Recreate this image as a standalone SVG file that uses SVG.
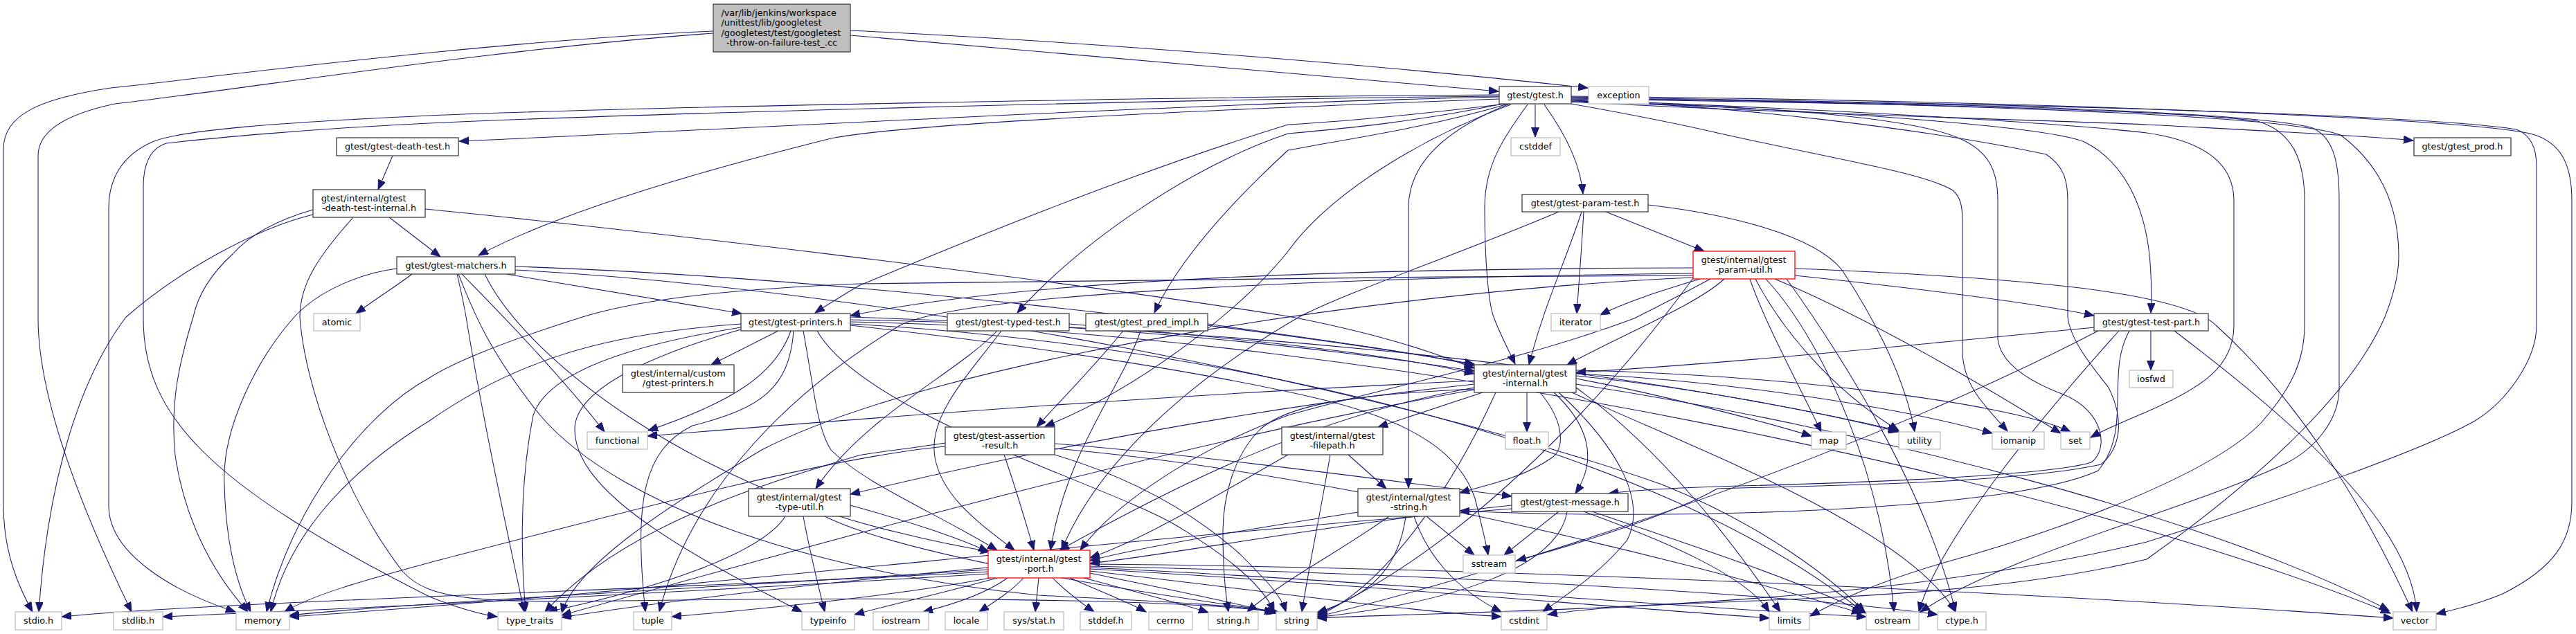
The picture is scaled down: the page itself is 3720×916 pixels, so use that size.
<svg xmlns="http://www.w3.org/2000/svg" width="3720" height="916" viewBox="0 0 3720 916">
<style>
.n rect{fill:#fff;stroke:#404040;stroke-width:1.3}
.x rect{fill:#fff;stroke:#bfbfbf;stroke-width:1.3}
.r rect{fill:#fff;stroke:#ff0000;stroke-width:1.3}
.g rect{fill:#bfbfbf;stroke:#404040;stroke-width:1.3}
text{font-family:"DejaVu Sans","Liberation Sans",sans-serif;font-size:12.75px;fill:#000}
.m{text-anchor:middle}
#edges path{fill:none;stroke:#191970;stroke-width:1.05;marker-end:url(#a)}
</style>
<defs>
<marker id="a" markerUnits="userSpaceOnUse" markerWidth="15" markerHeight="12" refX="14" refY="5.5" orient="auto"><path d="M0,0 L14,5.5 L0,11 z" fill="#191970" stroke="#191970" stroke-width="1"/></marker>
</defs>
<rect width="3720" height="916" fill="#fff"/>
<g id="edges">
<path d="M1030,45 C700,60 320,110 160,127 C60,142 5,165 5,215 L5,730 C5,800 28,850 47,884"/>
<path d="M1030,48 C700,72 360,128 166,150 C95,165 55,190 55,225 L55,460 C55,570 110,720 190,884"/>
<path d="M1228,44 C1600,62 2000,95 2293,127"/>
<path d="M1228,51 C1600,82 1950,113 2164,132"/>
<path d="M2165,140 C1700,150 1100,185 663,204"/>
<path d="M2165,143 C1700,160 1300,180 1200,200 C1000,250 800,310 691,369"/>
<path d="M2165,137 C1700,140 900,155 620,167 C400,177 260,188 220,205 C175,225 157,260 157,300 L157,731 C157,800 250,855 340,884"/>
<path d="M2165,139 C1700,143 900,165 620,178 C450,186 300,200 240,207 C215,215 207,240 207,270 L207,460 C207,600 300,700 620,862 C660,878 690,887 718,891"/>
<path d="M2175,150 C2050,165 1950,175 1860,180 C1600,260 1320,380 1240,413 C1215,428 1195,440 1177,452"/>
<path d="M2170,150 C2050,175 1950,185 1860,193 C1720,240 1560,350 1469,452"/>
<path d="M2178,150 C2060,185 1950,200 1860,217 C1770,300 1700,380 1667,452"/>
<path d="M2182,151 C2050,200 1920,280 1860,363 C1800,440 1650,560 1509,616"/>
<path d="M2180,150 C2080,190 2034,240 2034,300 L2034,705"/>
<path d="M2206,151 C2170,200 2144,240 2144,300 C2144,380 2150,440 2157,458 C2165,480 2178,505 2188,526"/>
<path d="M2217,151 L2217,198"/>
<path d="M2230,151 C2265,200 2282,240 2286,280"/>
<path d="M2269,147 C2600,165 3000,175 3100,180 C3250,188 3400,195 3485,203"/>
<path d="M2269,145 C2600,158 2950,180 3010,205 C3070,235 3095,300 3103,360 C3108,400 3107,430 3106,452"/>
<path d="M2269,150 C2380,170 2450,185 2480,192 C2650,230 2780,250 2820,275 C2832,285 2834,300 2834,320 L2834,510 C2836,560 2870,590 2899,623"/>
<path d="M2269,147 C2500,152 2750,165 2830,200 C2875,220 2885,250 2885,290 L2885,490 C2890,530 2940,555 2980,570 C3040,595 3045,650 3020,668 C2950,690 2600,700 2480,703 C2420,705 2360,708 2323,713"/>
<path d="M2269,146 C2500,150 2800,190 2955,223 C2980,240 2986,260 2986,290 L2986,458 C2990,495 3030,540 3045,560 C3070,610 3060,650 3034,671 C2900,700 2600,702 2480,706 C2420,740 2300,780 2190,810"/>
<path d="M2269,144 C2700,160 3000,180 3100,192 C3190,205 3226,240 3226,290 L3226,470 C3226,530 3180,560 3100,595 C3060,612 3040,620 3019,632"/>
<path d="M2269,143 C2800,150 3150,160 3260,175 C3310,190 3328,230 3328,290 L3328,470 C3328,520 3310,560 3266,610 C3200,680 3000,760 2800,815 C2700,845 2650,870 2614,890"/>
<path d="M2269,142 C2800,148 3250,160 3340,185 C3372,200 3378,240 3378,290 L3378,560 C3378,610 3340,650 3300,670 C3150,740 2900,800 2773,884"/>
<path d="M2269,141 C2800,150 3300,165 3380,195 C3440,240 3464,300 3464,370 C3464,400 3455,430 3444,458 C3400,560 3280,680 3100,808 C2800,880 2400,860 2235,888"/>
<path d="M2269,140 C2900,150 3500,165 3634,187 C3655,195 3663,215 3663,240 L3663,470 C3663,520 3620,580 3574,608 C3500,650 3300,720 3100,783 C2700,880 2200,880 1902,893"/>
<path d="M2269,139 C2900,145 3550,170 3654,193 C3700,205 3714,240 3714,290 L3714,725 C3714,780 3690,820 3614,858 C3580,872 3550,880 3518,887"/>
<path d="M567,225 L546,274"/>
<path d="M452,310 C370,330 260,390 182,458 C120,540 70,680 56,884"/>
<path d="M452,303 C400,318 360,340 336,367 C300,400 285,430 279,458 C260,520 245,580 253,658 C265,740 300,820 358,884"/>
<path d="M562,314 L636,371"/>
<path d="M614,302 C900,330 1500,400 1860,457 C1980,480 2060,505 2129,532"/>
<path d="M510,314 C460,370 433,410 433,458 C440,560 500,720 581,825 C620,870 700,870 900,868 C1300,862 1700,865 1840,884"/>
<path d="M595,396 C570,415 545,430 514,453"/>
<path d="M667,396 C700,430 800,530 873,624"/>
<path d="M573,388 C520,395 460,420 425,458 C370,520 320,620 324,700 C326,780 340,840 362,884"/>
<path d="M660,396 C668,430 672,450 675,470 C700,620 735,780 757,884"/>
<path d="M662,396 C680,440 700,500 780,600 C900,740 1200,830 1500,860 C1700,870 1800,875 1843,886"/>
<path d="M731,396 L1071,453"/>
<path d="M744,385 C1200,400 1800,470 2129,526"/>
<path d="M744,390 C1300,420 2000,560 2400,700 C2550,760 2650,840 2693,884"/>
<path d="M700,396 C760,520 1000,700 1300,770 C1360,785 1400,792 1430,797"/>
<path d="M1124,478 L1027,527"/>
<path d="M1142,478 C1120,540 1060,580 936,622"/>
<path d="M1070,468 C900,480 760,510 620,608 C520,670 420,760 391,884"/>
<path d="M1070,473 C900,500 790,540 770,600 C750,700 752,800 759,884"/>
<path d="M1146,478 C1140,560 1100,590 1000,615 C930,650 915,720 932,884"/>
<path d="M1070,476 C950,510 830,560 830,620 C830,700 950,780 1158,884"/>
<path d="M1228,462 C1700,470 2300,520 2741,622"/>
<path d="M1228,465 C2000,480 3000,700 3452,886"/>
<path d="M1228,468 C1800,500 2400,650 2690,884"/>
<path d="M1228,470 C1500,500 1750,540 1900,575 C2050,610 2110,660 2130,720 C2140,760 2147,790 2149,802"/>
<path d="M1180,478 C1250,600 1600,700 1700,760 C1800,820 1830,860 1840,884"/>
<path d="M1228,458 C1600,470 1900,500 2129,536"/>
<path d="M1160,478 C1175,560 1180,620 1200,650 C1250,700 1350,740 1440,795"/>
<path d="M1440,478 C1380,540 1250,600 1178,706"/>
<path d="M1446,478 C1400,540 1340,600 1350,660 C1360,720 1420,760 1465,795"/>
<path d="M1544,468 C1800,490 2000,510 2129,540"/>
<path d="M1622,478 C1580,530 1530,580 1497,617"/>
<path d="M1647,478 C1620,560 1540,650 1517,795"/>
<path d="M1744,468 C1900,490 2050,510 2129,528"/>
<path d="M1365,645 C1200,660 900,740 620,813 C520,840 450,860 411,884"/>
<path d="M1365,640 C1300,650 1250,655 1240,658 C1100,700 900,760 787,884"/>
<path d="M1450,657 C1465,700 1480,750 1493,795"/>
<path d="M1523,641 C1700,655 1900,680 2183,717"/>
<path d="M1523,657 C1600,680 1700,720 1790,800 C1830,840 1850,860 1857,884"/>
<path d="M1523,648 C1900,680 2400,800 2688,886"/>
<path d="M1134,746 C1100,800 950,850 791,884"/>
<path d="M1160,746 C1170,800 1180,840 1191,884"/>
<path d="M1191,746 C1300,800 1600,850 1846,884"/>
<path d="M1228,730 C1300,750 1380,775 1427,797"/>
<path d="M2205,567 L2205,624"/>
<path d="M2224,567 C2260,610 2260,650 2240,662 C2200,690 2150,700 2108,712"/>
<path d="M2244,567 C2290,610 2310,660 2275,713"/>
<path d="M2251,567 C2330,640 2380,720 2350,780 C2310,830 2260,860 2228,884"/>
<path d="M2141,567 L1990,617"/>
<path d="M2129,560 C1900,600 1700,700 1530,795"/>
<path d="M2129,555 C1800,590 1500,650 1228,714"/>
<path d="M2129,550 C1700,570 1300,600 935,630"/>
<path d="M2129,563 C1700,640 1200,780 811,889"/>
<path d="M2129,562 C1950,570 1860,585 1820,620 C1780,660 1766,720 1766,770 C1766,820 1770,860 1774,884"/>
<path d="M2160,567 C2100,700 2000,850 1902,890"/>
<path d="M2276,560 C2400,650 2500,780 2571,884"/>
<path d="M2270,567 C2450,650 2750,760 2824,884"/>
<path d="M2276,555 C2700,620 3200,750 3450,882"/>
<path d="M2276,547 C2400,570 2550,610 2616,630"/>
<path d="M2276,543 C2450,560 2650,600 2742,624"/>
<path d="M2276,540 C2500,550 2750,590 2877,626"/>
<path d="M2276,535 C2550,540 2900,580 2990,624"/>
<path d="M1947,657 L2002,706"/>
<path d="M1921,657 C1905,750 1890,820 1880,884"/>
<path d="M1860,657 C1750,720 1650,780 1574,806"/>
<path d="M2060,746 L2129,802"/>
<path d="M2042,746 C2060,800 2100,850 2168,884"/>
<path d="M2030,746 C2020,820 1980,860 1902,885"/>
<path d="M2006,746 C1930,800 1850,840 1801,884"/>
<path d="M1961,740 C1800,765 1650,790 1574,810"/>
<path d="M2251,739 L2172,802"/>
<path d="M2263,739 C2250,820 2100,870 1902,892"/>
<path d="M2287,739 C2400,780 2520,830 2555,884"/>
<path d="M2299,739 C2450,790 2600,840 2695,886"/>
<path d="M2183,735 C1600,780 900,860 418,891"/>
<path d="M2183,730 C1900,760 1700,800 1574,814"/>
<path d="M1427,826 C1000,850 300,870 89,891"/>
<path d="M1427,829 C1000,855 500,880 235,891"/>
<path d="M1427,823 C1100,845 600,870 418,889"/>
<path d="M1427,820 C1200,840 950,870 811,892"/>
<path d="M1430,835 C1300,860 1100,880 970,891"/>
<path d="M1440,835 C1350,860 1280,875 1234,888"/>
<path d="M1455,835 C1420,860 1370,875 1333,884"/>
<path d="M1478,835 C1460,855 1435,870 1414,884"/>
<path d="M1500,835 L1495,884"/>
<path d="M1520,835 C1540,855 1560,870 1580,884"/>
<path d="M1545,835 C1590,855 1630,870 1655,884"/>
<path d="M1565,835 C1640,855 1700,870 1745,885"/>
<path d="M1574,828 C1680,850 1780,870 1843,886"/>
<path d="M1574,825 C1800,850 2000,880 2168,891"/>
<path d="M1574,822 C1900,840 2300,875 2555,893"/>
<path d="M1574,820 C2000,840 2450,880 2695,891"/>
<path d="M1574,818 C2100,830 2600,860 2798,888"/>
<path d="M1574,815 C2200,820 3000,860 3456,893"/>
<path d="M2287,306 C2284,360 2280,410 2277,453"/>
<path d="M2319,306 L2461,363"/>
<path d="M2284,306 C2260,380 2230,440 2208,527"/>
<path d="M2251,306 C2100,370 1950,420 1876,458 C1700,560 1580,680 1533,795"/>
<path d="M2380,296 C2500,310 2620,340 2660,390 C2700,450 2750,540 2765,624"/>
<path d="M2455,403 C2400,420 2350,435 2311,455"/>
<path d="M2445,387 C2000,388 1500,400 1228,456"/>
<path d="M2445,398 C2000,400 1400,405 1240,410 C1000,420 900,440 841,458 C740,490 660,520 620,546 C520,600 420,740 385,884"/>
<path d="M2445,395 C2000,400 1400,420 1300,470 C1150,560 1000,700 952,884"/>
<path d="M2445,401 C2000,420 1350,520 1100,650 C950,740 830,820 811,886"/>
<path d="M2490,403 C2450,440 2350,480 2263,527"/>
<path d="M2470,403 C2420,430 2380,450 2360,460 C2200,520 2000,560 1860,600 C1700,660 1600,740 1560,795"/>
<path d="M2592,398 C2800,420 2950,440 3024,456"/>
<path d="M2527,403 C2550,470 2600,560 2630,624"/>
<path d="M2535,403 C2570,470 2640,560 2742,622"/>
<path d="M2563,403 C2700,460 2870,560 2976,626"/>
<path d="M2550,403 C2640,500 2720,700 2735,884"/>
<path d="M2580,403 C2650,500 2780,700 2824,884"/>
<path d="M2592,388 C2900,400 3150,420 3200,470 C3300,560 3400,700 3484,884"/>
<path d="M2445,402 C2300,600 2100,800 1902,888"/>
<path d="M3106,478 L3106,535"/>
<path d="M3024,473 C2800,495 2500,525 2276,538"/>
<path d="M3075,478 C3040,540 3080,620 3030,680 C2900,740 2400,752 2108,738"/>
<path d="M3140,478 C3300,600 3480,750 3490,884"/>
<path d="M3060,478 C2950,600 2800,780 2771,884"/>
<path d="M3030,478 C2700,650 2200,820 1902,891"/>
</g>
<g id="n_root" class="g"><rect x="1030" y="6" width="198" height="69"/><text x="1041.5" y="22.75">/var/lib/jenkins/workspace</text><text x="1041.5" y="37.25">/unittest/lib/googletest</text><text x="1041.5" y="51.75">/googletest/test/googletest</text><text class="m" x="1129" y="66.25">-throw-on-failure-test_.cc</text></g>
<g id="n_gtest" class="n"><rect x="2165" y="125" width="104" height="25"/><text class="m" x="2217" y="141.5">gtest/gtest.h</text></g>
<g id="n_exception" class="x"><rect x="2294" y="125" width="87" height="25"/><text class="m" x="2337.5" y="141.5">exception</text></g>
<g id="n_death" class="n"><rect x="486" y="199" width="176" height="26"/><text class="m" x="574" y="216">gtest/gtest-death-test.h</text></g>
<g id="n_cstddef" class="x"><rect x="2182" y="199" width="71" height="26"/><text class="m" x="2217.5" y="216">cstddef</text></g>
<g id="n_prod" class="n"><rect x="3486" y="199" width="140" height="26"/><text class="m" x="3556" y="216">gtest/gtest_prod.h</text></g>
<g id="n_dti" class="n"><rect x="452" y="274" width="162" height="40"/><text x="463.75" y="290.75">gtest/internal/gtest</text><text class="m" x="533" y="305.25">-death-test-internal.h</text></g>
<g id="n_ptest" class="n"><rect x="2198" y="281" width="182" height="25"/><text class="m" x="2289" y="297.5">gtest/gtest-param-test.h</text></g>
<g id="n_putil" class="r"><rect x="2445" y="363" width="147" height="40"/><text x="2456.75" y="379.75">gtest/internal/gtest</text><text class="m" x="2518.5" y="394.25">-param-util.h</text></g>
<g id="n_matchers" class="n"><rect x="573" y="371" width="171" height="25"/><text class="m" x="658.5" y="387.5">gtest/gtest-matchers.h</text></g>
<g id="n_atomic" class="x"><rect x="453" y="453" width="67" height="25"/><text class="m" x="486.5" y="469.5">atomic</text></g>
<g id="n_printers" class="n"><rect x="1070" y="453" width="158" height="25"/><text class="m" x="1149" y="469.5">gtest/gtest-printers.h</text></g>
<g id="n_typed" class="n"><rect x="1368" y="453" width="176" height="25"/><text class="m" x="1456" y="469.5">gtest/gtest-typed-test.h</text></g>
<g id="n_pred" class="n"><rect x="1568" y="453" width="176" height="25"/><text class="m" x="1656" y="469.5">gtest/gtest_pred_impl.h</text></g>
<g id="n_iterator" class="x"><rect x="2240" y="453" width="71" height="25"/><text class="m" x="2275.5" y="469.5">iterator</text></g>
<g id="n_testpart" class="n"><rect x="3024" y="453" width="165" height="25"/><text class="m" x="3106.5" y="469.5">gtest/gtest-test-part.h</text></g>
<g id="n_custom" class="n"><rect x="899" y="527" width="161" height="40"/><text x="910.75" y="543.75">gtest/internal/custom</text><text class="m" x="979.5" y="558.25">/gtest-printers.h</text></g>
<g id="n_internal" class="n"><rect x="2129" y="527" width="147" height="40"/><text x="2140.75" y="543.75">gtest/internal/gtest</text><text class="m" x="2202.5" y="558.25">-internal.h</text></g>
<g id="n_iosfwd" class="x"><rect x="3075" y="535" width="63" height="25"/><text class="m" x="3106.5" y="551.5">iosfwd</text></g>
<g id="n_functional" class="x"><rect x="848" y="624" width="87" height="25"/><text class="m" x="891.5" y="640.5">functional</text></g>
<g id="n_float" class="x"><rect x="2174" y="624" width="62" height="25"/><text class="m" x="2205" y="640.5">float.h</text></g>
<g id="n_map" class="x"><rect x="2616" y="624" width="50" height="25"/><text class="m" x="2641" y="640.5">map</text></g>
<g id="n_utility" class="x"><rect x="2742" y="624" width="60" height="25"/><text class="m" x="2772" y="640.5">utility</text></g>
<g id="n_iomanip" class="x"><rect x="2877" y="624" width="75" height="25"/><text class="m" x="2914.5" y="640.5">iomanip</text></g>
<g id="n_set" class="x"><rect x="2976" y="624" width="42" height="25"/><text class="m" x="2997" y="640.5">set</text></g>
<g id="n_assertion" class="n"><rect x="1365" y="617" width="158" height="40"/><text x="1376.75" y="633.75">gtest/gtest-assertion</text><text class="m" x="1444" y="648.25">-result.h</text></g>
<g id="n_filepath" class="n"><rect x="1851" y="617" width="146" height="40"/><text x="1862.75" y="633.75">gtest/internal/gtest</text><text class="m" x="1924" y="648.25">-filepath.h</text></g>
<g id="n_typeutil" class="n"><rect x="1081" y="706" width="147" height="40"/><text x="1092.75" y="722.75">gtest/internal/gtest</text><text class="m" x="1154.5" y="737.25">-type-util.h</text></g>
<g id="n_gstring" class="n"><rect x="1961" y="706" width="147" height="40"/><text x="1972.75" y="722.75">gtest/internal/gtest</text><text class="m" x="2034.5" y="737.25">-string.h</text></g>
<g id="n_message" class="n"><rect x="2183" y="713" width="168" height="26"/><text class="m" x="2267" y="730">gtest/gtest-message.h</text></g>
<g id="n_port" class="r"><rect x="1427" y="795" width="147" height="40"/><text x="1438.75" y="811.75">gtest/internal/gtest</text><text class="m" x="1500.5" y="826.25">-port.h</text></g>
<g id="n_sstream" class="x"><rect x="2113" y="802" width="75" height="26"/><text class="m" x="2150.5" y="819">sstream</text></g>
<g id="n_stdio" class="x"><rect x="22" y="884" width="67" height="26"/><text class="m" x="55.5" y="901">stdio.h</text></g>
<g id="n_stdlib" class="x"><rect x="164" y="884" width="71" height="26"/><text class="m" x="199.5" y="901">stdlib.h</text></g>
<g id="n_memory" class="x"><rect x="341" y="884" width="77" height="26"/><text class="m" x="379.5" y="901">memory</text></g>
<g id="n_type_traits" class="x"><rect x="719" y="884" width="92" height="26"/><text class="m" x="765" y="901">type_traits</text></g>
<g id="n_tuple" class="x"><rect x="915" y="884" width="55" height="26"/><text class="m" x="942.5" y="901">tuple</text></g>
<g id="n_typeinfo" class="x"><rect x="1158" y="884" width="76" height="26"/><text class="m" x="1196" y="901">typeinfo</text></g>
<g id="n_iostream" class="x"><rect x="1261" y="884" width="80" height="26"/><text class="m" x="1301" y="901">iostream</text></g>
<g id="n_locale" class="x"><rect x="1365" y="884" width="61" height="26"/><text class="m" x="1395.5" y="901">locale</text></g>
<g id="n_sysstat" class="x"><rect x="1450" y="884" width="86" height="26"/><text class="m" x="1493" y="901">sys/stat.h</text></g>
<g id="n_stddef" class="x"><rect x="1560" y="884" width="74" height="26"/><text class="m" x="1597" y="901">stddef.h</text></g>
<g id="n_cerrno" class="x"><rect x="1659" y="884" width="63" height="26"/><text class="m" x="1690.5" y="901">cerrno</text></g>
<g id="n_stringh" class="x"><rect x="1745" y="884" width="72" height="26"/><text class="m" x="1781" y="901">string.h</text></g>
<g id="n_string" class="x"><rect x="1843" y="884" width="59" height="26"/><text class="m" x="1872.5" y="901">string</text></g>
<g id="n_cstdint" class="x"><rect x="2168" y="884" width="66" height="26"/><text class="m" x="2201" y="901">cstdint</text></g>
<g id="n_limits" class="x"><rect x="2555" y="884" width="58" height="26"/><text class="m" x="2584" y="901">limits</text></g>
<g id="n_ostream" class="x"><rect x="2695" y="884" width="76" height="26"/><text class="m" x="2733" y="901">ostream</text></g>
<g id="n_ctype" class="x"><rect x="2798" y="884" width="70" height="26"/><text class="m" x="2833" y="901">ctype.h</text></g>
<g id="n_vector" class="x"><rect x="3456" y="884" width="62" height="26"/><text class="m" x="3487" y="901">vector</text></g>
</svg>
